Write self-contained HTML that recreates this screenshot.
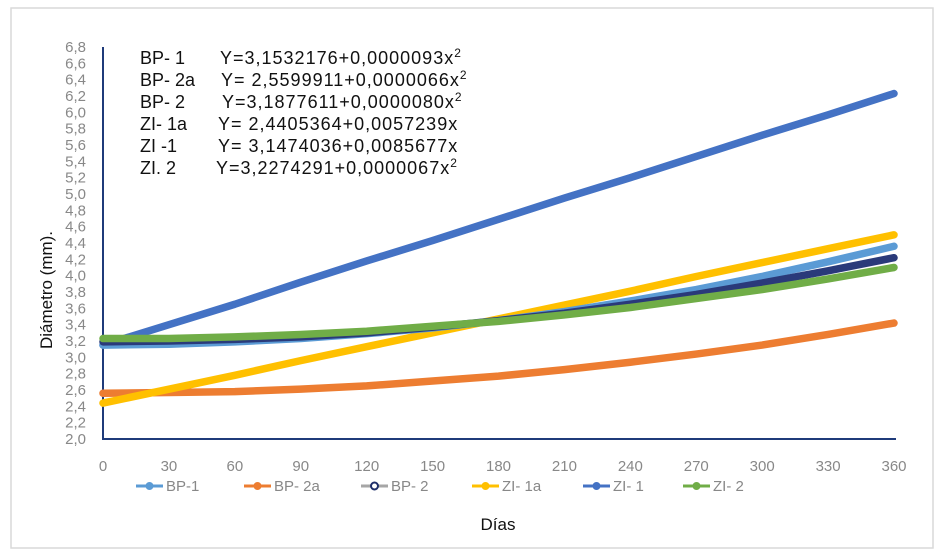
<!DOCTYPE html>
<html><head><meta charset="utf-8"><style>
body{margin:0;background:#fff;}
svg{display:block;font-family:"Liberation Sans",sans-serif;}
</style></head><body>
<svg id="chart" width="942" height="558">
<rect x="11" y="8" width="922" height="540" fill="#fff" stroke="#d9d9d9" stroke-width="1.5"/>
<g id="grid"></g>
<g id="series"></g>
<g id="eqs" font-size="18" fill="#111">
<text x="140" y="64">BP- 1</text><text x="220" y="64" letter-spacing="1">Y=3,1532176+0,0000093x<tspan font-size="12" dy="-7">2</tspan></text>
<text x="140" y="86">BP- 2a</text><text x="221" y="86" letter-spacing="1">Y= 2,5599911+0,0000066x<tspan font-size="12" dy="-7">2</tspan></text>
<text x="140" y="108">BP- 2</text><text x="222" y="108" letter-spacing="1">Y=3,1877611+0,0000080x<tspan font-size="12" dy="-7">2</tspan></text>
<text x="140" y="130">ZI- 1a</text><text x="218" y="130" letter-spacing="1">Y= 2,4405364+0,0057239x</text>
<text x="140" y="152">ZI -1</text><text x="218" y="152" letter-spacing="1">Y= 3,1474036+0,0085677x</text>
<text x="140" y="174">ZI. 2</text><text x="216" y="174" letter-spacing="1">Y=3,2274291+0,0000067x<tspan font-size="12" dy="-7">2</tspan></text>
</g>
<text x="52" y="290" font-size="17" fill="#111" text-anchor="middle" transform="rotate(-90 52 290)">Diámetro (mm).</text>
<text x="498" y="530" font-size="17" fill="#111" text-anchor="middle">Días</text>
<g id="legend"></g>
</svg>
<script>
const xTicks=[0,30,60,90,120,150,180,210,240,270,300,330,360];
const yTicks=[2.0,2.2,2.4,2.6,2.8,3.0,3.2,3.4,3.6,3.8,4.0,4.2,4.4,4.6,4.8,5.0,5.2,5.4,5.6,5.8,6.0,6.2,6.4,6.6,6.8];
const days=[0,30,60,90,120,150,180,210,240,270,300,330,360];
const bp1=[3.15,3.16,3.19,3.23,3.29,3.36,3.45,3.56,3.69,3.83,3.99,4.17,4.36];
const bp2a=[2.56,2.57,2.58,2.61,2.65,2.71,2.77,2.85,2.94,3.04,3.15,3.28,3.42];
const bp2=[3.19,3.20,3.22,3.25,3.30,3.37,3.45,3.54,3.65,3.77,3.91,4.06,4.22];
const zi1a=[2.44,2.61,2.78,2.96,3.13,3.30,3.47,3.64,3.81,3.99,4.16,4.33,4.50];
const zi1=[3.15,3.40,3.65,3.92,4.18,4.43,4.69,4.95,5.20,5.46,5.72,5.97,6.23];
const zi2=[3.23,3.23,3.25,3.28,3.32,3.38,3.44,3.52,3.61,3.72,3.83,3.96,4.10];
const names=["BP-1","BP- 2a","BP- 2","ZI- 1a","ZI- 1","ZI- 2"];
const NS="http://www.w3.org/2000/svg";
const X0=103,X1=894,Y0=439,Y1=47;
const sx=v=>X0+(v-0)/360*(X1-X0);
const sy=v=>Y0-(v-2)/4.8*(Y0-Y1);
function mk(t,a,p){const e=document.createElementNS(NS,t);for(const k in a)e.setAttribute(k,a[k]);if(p)p.appendChild(e);return e;}
const grid=document.getElementById('grid');
yTicks.forEach(v=>{const t=mk('text',{x:86,y:sy(v)+5,'font-size':15,fill:'#888','text-anchor':'end'},grid);t.textContent=v.toFixed(1).replace('.',',');

});
xTicks.forEach(v=>{const t=mk('text',{x:sx(v),y:471,'font-size':15,fill:'#888','text-anchor':'middle'},grid);t.textContent=v;

});
const ya=mk('line',{x1:X0,y1:Y1,x2:X0,y2:Y0+1,stroke:'#1f3b7a','stroke-width':2},grid);


const xa=mk('line',{x1:X0,y1:Y0,x2:X1+2,y2:Y0,stroke:'#1f3b7a','stroke-width':2},grid);


const colors=['#5b9bd5','#ed7d31','#2a3a7a','#ffc000','#4472c4','#70ad47'];
const data=[bp1,bp2a,bp2,zi1a,zi1,zi2];
const keys=['bp-1','bp-2a','bp-2','zi-1a','zi-1','zi-2'];
const sg=document.getElementById('series');
[1,3,4,0,2,5].forEach(i=>{
 const pts=days.map((d,j)=>sx(d)+','+sy(data[i][j])).join(' ');
 const p=mk('polyline',{points:pts,fill:'none',stroke:colors[i],'stroke-width':7.5,'stroke-linejoin':'round','stroke-linecap':'round'},sg);
 
 
});
const lg=document.getElementById('legend');
const lx=[136,244,361,472,583,683];
const lc=['#5b9bd5','#ed7d31','#a6a6a6','#ffc000','#4472c4','#70ad47'];
names.forEach((n,i)=>{
 const g=mk('g',{},lg);
 
 
 mk('line',{x1:lx[i],y1:486,x2:lx[i]+27,y2:486,stroke:lc[i],'stroke-width':3},g);
 mk('circle',{cx:lx[i]+13.5,cy:486,r:3.5,fill:i==2?'#fff':lc[i],stroke:i==2?'#1f2f6a':lc[i],'stroke-width':i==2?2:1},g);
 const t=mk('text',{x:lx[i]+30,y:491,'font-size':15,fill:'#888'},g);t.textContent=n;
});
</script>
</body></html>
